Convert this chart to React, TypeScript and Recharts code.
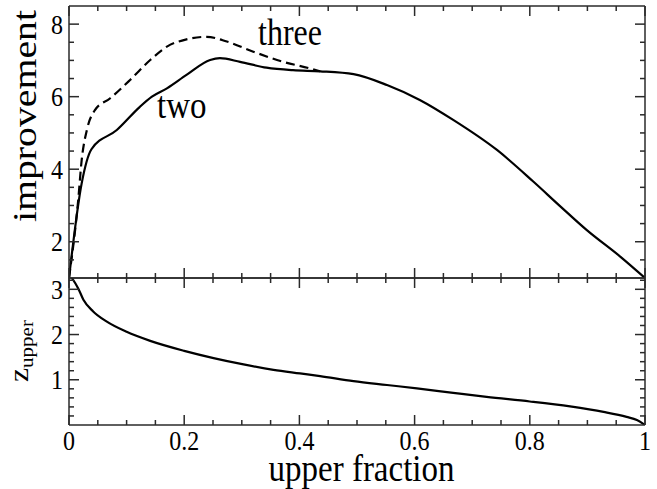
import { LineChart, Line, XAxis, YAxis } from "recharts";

// upper fraction (x) for each series
const fracTwo = [0, 0.022, 0.039, 0.083, 0.123, 0.144, 0.17, 0.204, 0.245, 0.262, 0.297, 0.343, 0.389, 0.436, 0.494, 0.552, 0.609, 0.667, 0.743, 0.806, 0.852, 0.899, 0.957, 1];
const improveTwo = [1.0, 3.61, 4.55, 5.08, 5.72, 6.0, 6.23, 6.6, 7.01, 7.06, 6.96, 6.8, 6.73, 6.7, 6.62, 6.32, 5.91, 5.36, 4.53, 3.66, 2.99, 2.32, 1.59, 1.0];

const fracThree = [0, 0.016, 0.022, 0.031, 0.045, 0.071, 0.106, 0.141, 0.17, 0.204, 0.239, 0.274, 0.32, 0.372, 0.418, 0.436];
const improveThree = [1.0, 3.15, 4.25, 5.08, 5.63, 5.95, 6.46, 7.01, 7.38, 7.58, 7.65, 7.52, 7.24, 6.96, 6.78, 6.7];

const fracZ = [0.005, 0.016, 0.025, 0.042, 0.065, 0.1, 0.141, 0.2, 0.251, 0.303, 0.355, 0.401, 0.436, 0.494, 0.552, 0.604, 0.667, 0.725, 0.8, 0.87, 0.928, 0.968, 0.986, 1];
const zUpper = [3.25, 3.02, 2.77, 2.51, 2.29, 2.06, 1.86, 1.64, 1.48, 1.34, 1.22, 1.14, 1.08, 0.97, 0.885, 0.81, 0.71, 0.62, 0.52, 0.41, 0.29, 0.18, 0.11, 0];

// ticks
const xTicks = [0, 0.05, 0.1, 0.15, 0.2, 0.25, 0.3, 0.35, 0.4, 0.45, 0.5, 0.55, 0.6, 0.65, 0.7, 0.75, 0.8, 0.85, 0.9, 0.95, 1];
const xLabels = ["0", "0.2", "0.4", "0.6", "0.8", "1"];
const topYTicks = [1.5, 2, 2.5, 3, 3.5, 4, 4.5, 5, 5.5, 6, 6.5, 7, 7.5, 8];
const topYLabels = ["2", "4", "6", "8"];
const botYTicks = [0.2, 0.4, 0.6, 0.8, 1, 1.2, 1.4, 1.6, 1.8, 2, 2.2, 2.4, 2.6, 2.8, 3, 3.2];
const botYLabels = ["1", "2", "3"];

const pairs = (xs: number[], ys: number[]) => xs.map((f, i) => ({ f, v: ys[i] }));
const twoData = pairs(fracTwo, improveTwo);
const threeData = pairs(fracThree, improveThree);
const zData = pairs(fracZ, zUpper);

const FRAME = "#2a2a2a";
const FONT = "'Liberation Serif', 'Times New Roman', serif";
const STRETCH = 1.17;

const fmt = (v: number) => String(Math.round(v * 100) / 100);

function XTick(props: any) {
  const { x, y, payload, dir, labels } = props;
  const label = fmt(payload.value);
  const major = labels.includes(label);
  const show = props.showLabel && major;
  return (
    <g>
      <line x1={x} y1={y} x2={x} y2={y + dir * (major ? 10 : 5)} stroke={FRAME} strokeWidth={1.5} />
      {show && (
        <text transform={`translate(${x},${y + 25}) scale(1,${STRETCH})`} textAnchor="middle" fontSize={24} fontFamily={FONT} fill="#000">
          {label}
        </text>
      )}
    </g>
  );
}

function YTick(props: any) {
  const { x, y, payload, dir, labels } = props;
  const label = fmt(payload.value);
  const major = labels.includes(label);
  const show = props.showLabel && major;
  return (
    <g>
      <line x1={x} y1={y} x2={x + dir * (major ? 10 : 5)} y2={y} stroke={FRAME} strokeWidth={1.5} />
      {show && (
        <text transform={`translate(${x - 6},${y + 9.5}) scale(1,${STRETCH})`} textAnchor="end" fontSize={24} fontFamily={FONT} fill="#000">
          {label}
        </text>
      )}
    </g>
  );
}

// four axes drawn as a closed frame with inward ticks
function Frame({ yDomain, yTicks, yLabels, showX }: { yDomain: number[]; yTicks: number[]; yLabels: string[]; showX: boolean }) {
  const line = { stroke: FRAME, strokeWidth: 1.5 };
  return [
    <XAxis key="b" xAxisId="b" type="number" dataKey="f" domain={[0, 1]} ticks={xTicks} interval={0} height={1}
      tickSize={0} tickMargin={0} tickLine={false} axisLine={line} allowDataOverflow
      tick={(p: any) => <XTick {...p} dir={-1} labels={xLabels} showLabel={showX} />} />,
    <XAxis key="t" xAxisId="t" orientation="top" type="number" dataKey="f" domain={[0, 1]} ticks={xTicks} interval={0} height={1}
      tickSize={0} tickMargin={0} tickLine={false} axisLine={line} allowDataOverflow
      tick={(p: any) => <XTick {...p} dir={1} labels={xLabels} showLabel={false} />} />,
    <YAxis key="l" yAxisId="l" type="number" domain={yDomain} ticks={yTicks} interval={0} width={1}
      tickSize={0} tickMargin={0} tickLine={false} axisLine={line} allowDataOverflow
      tick={(p: any) => <YTick {...p} dir={1} labels={yLabels} showLabel />} />,
    <YAxis key="r" yAxisId="r" orientation="right" type="number" domain={yDomain} ticks={yTicks} interval={0} width={1}
      tickSize={0} tickMargin={0} tickLine={false} axisLine={line} allowDataOverflow
      tick={(p: any) => <YTick {...p} dir={-1} labels={yLabels} showLabel={false} />} />,
  ];
}

export default function App() {
  return (
    <div style={{ position: "absolute", left: 0, top: 0, width: 657, height: 489, background: "#fff" }}>
      <div style={{ position: "absolute", left: 0, top: 0 }}>
        <LineChart width={657} height={300} margin={{ top: 5, right: 11, bottom: 21, left: 68 }}>
          {Frame({ yDomain: [1, 8.5], yTicks: topYTicks, yLabels: topYLabels, showX: false })}
          <Line xAxisId="b" yAxisId="l" data={threeData} dataKey="v" type="monotone" stroke="#000" strokeWidth={2.2}
            strokeDasharray="9 5" dot={false} isAnimationActive={false} />
          <Line xAxisId="b" yAxisId="l" data={twoData} dataKey="v" type="monotone" stroke="#000" strokeWidth={2.2}
            dot={false} isAnimationActive={false} />
        </LineChart>
      </div>
      <div style={{ position: "absolute", left: 0, top: 0 }}>
        <LineChart width={657} height={489} margin={{ top: 277, right: 11, bottom: 63, left: 68 }}>
          {Frame({ yDomain: [0, 3.25], yTicks: botYTicks, yLabels: botYLabels, showX: true })}
          <Line xAxisId="b" yAxisId="l" data={zData} dataKey="v" type="monotone" stroke="#000" strokeWidth={2.2}
            dot={false} isAnimationActive={false} />
        </LineChart>
      </div>
      <svg width={657} height={489} style={{ position: "absolute", left: 0, top: 0, pointerEvents: "none" }} fontFamily={FONT} fill="#000">
        <text transform={`translate(36,116) scale(1,${STRETCH}) rotate(-90)`} textAnchor="middle" fontSize={34}>improvement</text>
        <text transform={`translate(28,382) scale(1,${STRETCH}) rotate(-90)`} fontSize={27}>z</text>
        <text transform={`translate(33,368) scale(1,${STRETCH}) rotate(-90)`} fontSize={18}>upper</text>
        <text transform={`translate(361.5,481) scale(1,${STRETCH})`} textAnchor="middle" fontSize={33}>upper fraction</text>
        <text transform={`translate(157,118) scale(1,${STRETCH})`} fontSize={33}>two</text>
        <text transform={`translate(258,45) scale(1,${STRETCH})`} fontSize={32}>three</text>
      </svg>
    </div>
  );
}
